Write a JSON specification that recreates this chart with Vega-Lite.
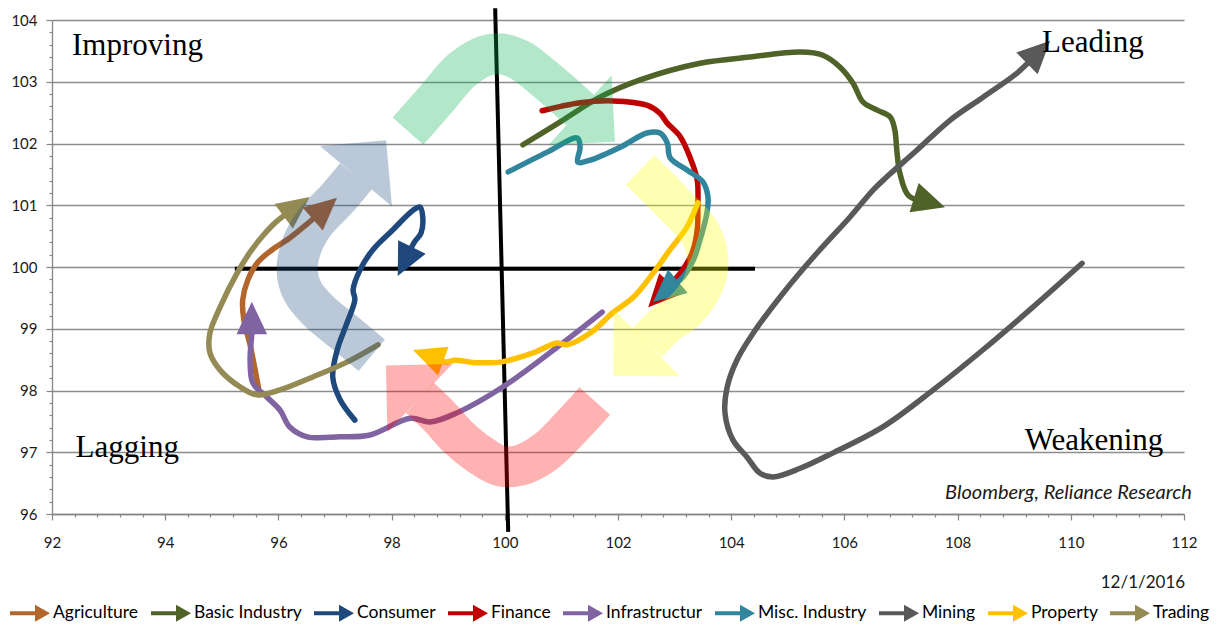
{
  "$schema": "https://vega.github.io/schema/vega-lite/v6.json",
  "width": 1132,
  "height": 494,
  "autosize": {"type": "none"},
  "padding": {"left": 52, "top": 20, "right": 48, "bottom": 111},
  "background": "white",
  "config": {"view": {"stroke": null}},
  "datasets": {
    "series": [
      {"s": "Agriculture", "i": 0, "x": 95.67, "y": 97.93},
      {"s": "Agriculture", "i": 1, "x": 95.59, "y": 98.33},
      {"s": "Agriculture", "i": 2, "x": 95.50, "y": 98.74},
      {"s": "Agriculture", "i": 3, "x": 95.39, "y": 99.14},
      {"s": "Agriculture", "i": 4, "x": 95.37, "y": 99.47},
      {"s": "Agriculture", "i": 5, "x": 95.46, "y": 99.79},
      {"s": "Agriculture", "i": 6, "x": 95.64, "y": 100.08},
      {"s": "Agriculture", "i": 7, "x": 95.89, "y": 100.28},
      {"s": "Agriculture", "i": 8, "x": 96.20, "y": 100.47},
      {"s": "Agriculture", "i": 9, "x": 96.51, "y": 100.70},
      {"s": "Agriculture", "i": 10, "x": 96.81, "y": 100.94},
      {"s": "Basic Industry", "i": 0, "x": 100.32, "y": 101.98},
      {"s": "Basic Industry", "i": 1, "x": 100.98, "y": 102.35},
      {"s": "Basic Industry", "i": 2, "x": 101.68, "y": 102.75},
      {"s": "Basic Industry", "i": 3, "x": 102.39, "y": 103.03},
      {"s": "Basic Industry", "i": 4, "x": 103.45, "y": 103.30},
      {"s": "Basic Industry", "i": 5, "x": 104.33, "y": 103.40},
      {"s": "Basic Industry", "i": 6, "x": 105.22, "y": 103.48},
      {"s": "Basic Industry", "i": 7, "x": 105.62, "y": 103.43},
      {"s": "Basic Industry", "i": 8, "x": 105.92, "y": 103.24},
      {"s": "Basic Industry", "i": 9, "x": 106.15, "y": 102.98},
      {"s": "Basic Industry", "i": 10, "x": 106.33, "y": 102.67},
      {"s": "Basic Industry", "i": 11, "x": 106.58, "y": 102.54},
      {"s": "Basic Industry", "i": 12, "x": 106.81, "y": 102.43},
      {"s": "Basic Industry", "i": 13, "x": 106.89, "y": 102.22},
      {"s": "Basic Industry", "i": 14, "x": 106.93, "y": 101.85},
      {"s": "Basic Industry", "i": 15, "x": 106.98, "y": 101.52},
      {"s": "Basic Industry", "i": 16, "x": 107.14, "y": 101.15},
      {"s": "Basic Industry", "i": 17, "x": 107.49, "y": 101.05},
      {"s": "Consumer", "i": 0, "x": 97.35, "y": 97.52},
      {"s": "Consumer", "i": 1, "x": 97.09, "y": 97.85},
      {"s": "Consumer", "i": 2, "x": 96.96, "y": 98.22},
      {"s": "Consumer", "i": 3, "x": 97.04, "y": 98.66},
      {"s": "Consumer", "i": 4, "x": 97.21, "y": 99.09},
      {"s": "Consumer", "i": 5, "x": 97.35, "y": 99.47},
      {"s": "Consumer", "i": 6, "x": 97.32, "y": 99.63},
      {"s": "Consumer", "i": 7, "x": 97.44, "y": 99.95},
      {"s": "Consumer", "i": 8, "x": 97.67, "y": 100.28},
      {"s": "Consumer", "i": 9, "x": 98.02, "y": 100.60},
      {"s": "Consumer", "i": 10, "x": 98.38, "y": 100.92},
      {"s": "Consumer", "i": 11, "x": 98.50, "y": 100.97},
      {"s": "Consumer", "i": 12, "x": 98.55, "y": 100.81},
      {"s": "Consumer", "i": 13, "x": 98.52, "y": 100.55},
      {"s": "Consumer", "i": 14, "x": 98.40, "y": 100.40},
      {"s": "Consumer", "i": 15, "x": 98.24, "y": 100.10},
      {"s": "Finance", "i": 0, "x": 100.66, "y": 102.53},
      {"s": "Finance", "i": 1, "x": 101.33, "y": 102.66},
      {"s": "Finance", "i": 2, "x": 101.91, "y": 102.69},
      {"s": "Finance", "i": 3, "x": 102.51, "y": 102.62},
      {"s": "Finance", "i": 4, "x": 102.74, "y": 102.49},
      {"s": "Finance", "i": 5, "x": 102.87, "y": 102.33},
      {"s": "Finance", "i": 6, "x": 103.10, "y": 102.11},
      {"s": "Finance", "i": 7, "x": 103.27, "y": 101.78},
      {"s": "Finance", "i": 8, "x": 103.40, "y": 101.41},
      {"s": "Finance", "i": 9, "x": 103.41, "y": 100.97},
      {"s": "Finance", "i": 10, "x": 103.40, "y": 100.60},
      {"s": "Finance", "i": 11, "x": 103.31, "y": 100.23},
      {"s": "Finance", "i": 12, "x": 103.10, "y": 99.90},
      {"s": "Finance", "i": 13, "x": 102.74, "y": 99.55},
      {"s": "Infrastructur", "i": 0, "x": 101.72, "y": 99.27},
      {"s": "Infrastructur", "i": 1, "x": 100.98, "y": 98.74},
      {"s": "Infrastructur", "i": 2, "x": 99.97, "y": 98.06},
      {"s": "Infrastructur", "i": 3, "x": 99.16, "y": 97.64},
      {"s": "Infrastructur", "i": 4, "x": 98.68, "y": 97.49},
      {"s": "Infrastructur", "i": 5, "x": 98.33, "y": 97.55},
      {"s": "Infrastructur", "i": 6, "x": 97.62, "y": 97.28},
      {"s": "Infrastructur", "i": 7, "x": 97.09, "y": 97.25},
      {"s": "Infrastructur", "i": 8, "x": 96.51, "y": 97.25},
      {"s": "Infrastructur", "i": 9, "x": 96.20, "y": 97.41},
      {"s": "Infrastructur", "i": 10, "x": 96.03, "y": 97.68},
      {"s": "Infrastructur", "i": 11, "x": 95.80, "y": 97.89},
      {"s": "Infrastructur", "i": 12, "x": 95.55, "y": 98.12},
      {"s": "Infrastructur", "i": 13, "x": 95.50, "y": 98.49},
      {"s": "Infrastructur", "i": 14, "x": 95.53, "y": 98.93},
      {"s": "Infrastructur", "i": 15, "x": 95.53, "y": 99.16},
      {"s": "Misc. Industry", "i": 0, "x": 100.06, "y": 101.54},
      {"s": "Misc. Industry", "i": 1, "x": 100.75, "y": 101.86},
      {"s": "Misc. Industry", "i": 2, "x": 101.28, "y": 102.09},
      {"s": "Misc. Industry", "i": 3, "x": 101.33, "y": 101.94},
      {"s": "Misc. Industry", "i": 4, "x": 101.29, "y": 101.70},
      {"s": "Misc. Industry", "i": 5, "x": 101.51, "y": 101.73},
      {"s": "Misc. Industry", "i": 6, "x": 102.04, "y": 101.94},
      {"s": "Misc. Industry", "i": 7, "x": 102.51, "y": 102.17},
      {"s": "Misc. Industry", "i": 8, "x": 102.74, "y": 102.17},
      {"s": "Misc. Industry", "i": 9, "x": 102.87, "y": 102.01},
      {"s": "Misc. Industry", "i": 10, "x": 102.92, "y": 101.77},
      {"s": "Misc. Industry", "i": 11, "x": 103.22, "y": 101.57},
      {"s": "Misc. Industry", "i": 12, "x": 103.50, "y": 101.38},
      {"s": "Misc. Industry", "i": 13, "x": 103.59, "y": 101.13},
      {"s": "Misc. Industry", "i": 14, "x": 103.57, "y": 100.87},
      {"s": "Misc. Industry", "i": 15, "x": 103.45, "y": 100.44},
      {"s": "Misc. Industry", "i": 16, "x": 103.33, "y": 100.11},
      {"s": "Misc. Industry", "i": 17, "x": 103.15, "y": 99.84},
      {"s": "Misc. Industry", "i": 18, "x": 102.85, "y": 99.61},
      {"s": "Mining", "i": 0, "x": 110.20, "y": 100.06},
      {"s": "Mining", "i": 1, "x": 109.33, "y": 99.35},
      {"s": "Mining", "i": 2, "x": 108.45, "y": 98.66},
      {"s": "Mining", "i": 3, "x": 107.57, "y": 98.01},
      {"s": "Mining", "i": 4, "x": 106.68, "y": 97.41},
      {"s": "Mining", "i": 5, "x": 105.80, "y": 96.99},
      {"s": "Mining", "i": 6, "x": 105.22, "y": 96.74},
      {"s": "Mining", "i": 7, "x": 104.74, "y": 96.60},
      {"s": "Mining", "i": 8, "x": 104.51, "y": 96.66},
      {"s": "Mining", "i": 9, "x": 104.28, "y": 96.92},
      {"s": "Mining", "i": 10, "x": 104.03, "y": 97.20},
      {"s": "Mining", "i": 11, "x": 103.89, "y": 97.64},
      {"s": "Mining", "i": 12, "x": 103.93, "y": 98.06},
      {"s": "Mining", "i": 13, "x": 104.10, "y": 98.49},
      {"s": "Mining", "i": 14, "x": 104.39, "y": 98.93},
      {"s": "Mining", "i": 15, "x": 104.92, "y": 99.58},
      {"s": "Mining", "i": 16, "x": 105.52, "y": 100.23},
      {"s": "Mining", "i": 17, "x": 106.10, "y": 100.81},
      {"s": "Mining", "i": 18, "x": 106.51, "y": 101.25},
      {"s": "Mining", "i": 19, "x": 106.75, "y": 101.46},
      {"s": "Mining", "i": 20, "x": 107.28, "y": 101.89},
      {"s": "Mining", "i": 21, "x": 107.87, "y": 102.38},
      {"s": "Mining", "i": 22, "x": 108.45, "y": 102.75},
      {"s": "Mining", "i": 23, "x": 109.05, "y": 103.14},
      {"s": "Mining", "i": 24, "x": 109.42, "y": 103.47},
      {"s": "Property", "i": 0, "x": 103.41, "y": 101.04},
      {"s": "Property", "i": 1, "x": 103.22, "y": 100.65},
      {"s": "Property", "i": 2, "x": 102.92, "y": 100.28},
      {"s": "Property", "i": 3, "x": 102.62, "y": 99.90},
      {"s": "Property", "i": 4, "x": 102.27, "y": 99.51},
      {"s": "Property", "i": 5, "x": 101.91, "y": 99.26},
      {"s": "Property", "i": 6, "x": 101.51, "y": 98.93},
      {"s": "Property", "i": 7, "x": 101.10, "y": 98.74},
      {"s": "Property", "i": 8, "x": 100.92, "y": 98.77},
      {"s": "Property", "i": 9, "x": 100.50, "y": 98.61},
      {"s": "Property", "i": 10, "x": 99.92, "y": 98.46},
      {"s": "Property", "i": 11, "x": 99.56, "y": 98.45},
      {"s": "Property", "i": 12, "x": 99.39, "y": 98.46},
      {"s": "Property", "i": 13, "x": 99.12, "y": 98.49},
      {"s": "Property", "i": 14, "x": 98.96, "y": 98.46},
      {"s": "Property", "i": 15, "x": 98.66, "y": 98.56},
      {"s": "Trading", "i": 0, "x": 97.76, "y": 98.74},
      {"s": "Trading", "i": 1, "x": 97.21, "y": 98.46},
      {"s": "Trading", "i": 2, "x": 96.61, "y": 98.22},
      {"s": "Trading", "i": 3, "x": 96.03, "y": 98.01},
      {"s": "Trading", "i": 4, "x": 95.62, "y": 97.93},
      {"s": "Trading", "i": 5, "x": 95.32, "y": 98.06},
      {"s": "Trading", "i": 6, "x": 94.97, "y": 98.33},
      {"s": "Trading", "i": 7, "x": 94.79, "y": 98.61},
      {"s": "Trading", "i": 8, "x": 94.79, "y": 98.93},
      {"s": "Trading", "i": 9, "x": 94.97, "y": 99.35},
      {"s": "Trading", "i": 10, "x": 95.27, "y": 99.90},
      {"s": "Trading", "i": 11, "x": 95.50, "y": 100.24},
      {"s": "Trading", "i": 12, "x": 95.71, "y": 100.49},
      {"s": "Trading", "i": 13, "x": 95.96, "y": 100.73},
      {"s": "Trading", "i": 14, "x": 96.31, "y": 100.97}
    ],
    "bg": [
      {"s": "bgGreen", "i": 0, "x": 98.29, "y": 102.20},
      {"s": "bgGreen", "i": 1, "x": 98.77, "y": 102.70},
      {"s": "bgGreen", "i": 2, "x": 99.24, "y": 103.19},
      {"s": "bgGreen", "i": 3, "x": 99.65, "y": 103.42},
      {"s": "bgGreen", "i": 4, "x": 99.95, "y": 103.45},
      {"s": "bgGreen", "i": 5, "x": 100.27, "y": 103.35},
      {"s": "bgGreen", "i": 6, "x": 100.62, "y": 103.11},
      {"s": "bgGreen", "i": 7, "x": 100.98, "y": 102.83},
      {"s": "bgGreen", "i": 8, "x": 101.33, "y": 102.54},
      {"s": "bgYellow", "i": 0, "x": 102.39, "y": 101.57},
      {"s": "bgYellow", "i": 1, "x": 102.97, "y": 101.04},
      {"s": "bgYellow", "i": 2, "x": 103.45, "y": 100.55},
      {"s": "bgYellow", "i": 3, "x": 103.59, "y": 100.08},
      {"s": "bgYellow", "i": 4, "x": 103.50, "y": 99.71},
      {"s": "bgYellow", "i": 5, "x": 103.18, "y": 99.30},
      {"s": "bgYellow", "i": 6, "x": 102.85, "y": 99.08},
      {"s": "bgYellow", "i": 7, "x": 102.51, "y": 98.77},
      {"s": "bgPink", "i": 0, "x": 101.59, "y": 97.83},
      {"s": "bgPink", "i": 1, "x": 101.15, "y": 97.39},
      {"s": "bgPink", "i": 2, "x": 100.71, "y": 97.00},
      {"s": "bgPink", "i": 3, "x": 100.27, "y": 96.79},
      {"s": "bgPink", "i": 4, "x": 99.92, "y": 96.78},
      {"s": "bgPink", "i": 5, "x": 99.56, "y": 96.96},
      {"s": "bgPink", "i": 6, "x": 99.17, "y": 97.25},
      {"s": "bgPink", "i": 7, "x": 98.82, "y": 97.60},
      {"s": "bgPink", "i": 8, "x": 98.50, "y": 97.88},
      {"s": "bgBlue", "i": 0, "x": 97.65, "y": 98.57},
      {"s": "bgBlue", "i": 1, "x": 97.18, "y": 98.93},
      {"s": "bgBlue", "i": 2, "x": 96.73, "y": 99.27},
      {"s": "bgBlue", "i": 3, "x": 96.43, "y": 99.60},
      {"s": "bgBlue", "i": 4, "x": 96.33, "y": 99.95},
      {"s": "bgBlue", "i": 5, "x": 96.42, "y": 100.36},
      {"s": "bgBlue", "i": 6, "x": 96.65, "y": 100.73},
      {"s": "bgBlue", "i": 7, "x": 97.05, "y": 101.12},
      {"s": "bgBlue", "i": 8, "x": 97.37, "y": 101.47}
    ],
    "cross": [
      {"k": "v", "i": 0, "x": 99.83, "y": 104.19},
      {"k": "v", "i": 1, "x": 100.06, "y": 95.71},
      {"k": "h", "i": 0, "x": 95.23, "y": 99.97},
      {"k": "h", "i": 1, "x": 104.42, "y": 99.97}
    ],
    "quad": [
      {"t": "Improving", "x": 93.51, "y": 103.43},
      {"t": "Leading", "x": 110.39, "y": 103.48},
      {"t": "Lagging", "x": 93.33, "y": 96.92},
      {"t": "Weakening", "x": 110.41, "y": 97.04}
    ],
    "src": [{"t": "Bloomberg, Reliance Research", "x": 112.14, "y": 96.24}],
    "date": [{"t": "12/1/2016", "x": 112.02, "y": 94.80}]
  },
  "encoding": {
    "x": {
      "field": "x", "type": "quantitative",
      "scale": {"domain": [92, 112], "nice": false, "zero": false},
      "axis": {
        "title": null,
        "values": [92,92.4,92.8,93.2,93.6,94,94.4,94.8,95.2,95.6,96,96.4,96.8,97.2,97.6,98,98.4,98.8,99.2,99.6,100,100.4,100.8,101.2,101.6,102,102.4,102.8,103.2,103.6,104,104.4,104.8,105.2,105.6,106,106.4,106.8,107.2,107.6,108,108.4,108.8,109.2,109.6,110,110.4,110.8,111.2,111.6,112],
        "format": ".0f",
        "labelExpr": "abs(datum.value/2 - round(datum.value/2)) < 0.001 ? datum.label : ''",
        "grid": false,
        "domainColor": "#868686", "domainWidth": 1.3,
        "tickColor": "#868686", "tickWidth": 1.2,
        "tickSize": {"condition": {"test": "abs(datum.value/2 - round(datum.value/2)) < 0.001", "value": 6}, "value": 3},
        "labelPadding": 15, "labelFont": "Lato", "labelFontSize": 15, "labelColor": "#1a1a1a",
        "labelOverlap": false, "labelFlush": false
      }
    },
    "y": {
      "field": "y", "type": "quantitative",
      "scale": {"domain": [96, 104], "nice": false, "zero": false},
      "axis": {
        "title": null,
        "values": [96,96.2,96.4,96.6,96.8,97,97.2,97.4,97.6,97.8,98,98.2,98.4,98.6,98.8,99,99.2,99.4,99.6,99.8,100,100.2,100.4,100.6,100.8,101,101.2,101.4,101.6,101.8,102,102.2,102.4,102.6,102.8,103,103.2,103.4,103.6,103.8,104],
        "format": ".0f",
        "labelExpr": "abs(datum.value - round(datum.value)) < 0.001 ? datum.label : ''",
        "grid": true, "gridColor": "#8c8c8c", "gridWidth": 1.5,
        "gridOpacity": {"condition": {"test": "abs(datum.value - round(datum.value)) < 0.001", "value": 1}, "value": 0},
        "domainColor": "#868686", "domainWidth": 1.3,
        "tickColor": "#868686", "tickWidth": 1.2,
        "tickSize": {"condition": {"test": "abs(datum.value - round(datum.value)) < 0.001", "value": 6}, "value": 3},
        "labelPadding": 9, "labelFont": "Lato", "labelFontSize": 15, "labelColor": "#1a1a1a",
        "labelOverlap": false, "labelFlush": false
      }
    }
  },
  "layer": [
    {
      "data": {"name": "cross"},
      "mark": {"type": "line", "color": "#000000", "strokeWidth": 4, "strokeCap": "butt"},
      "encoding": {"detail": {"field": "k"}, "order": {"field": "i", "type": "quantitative"}}
    },
    {
      "data": {"name": "series"},
      "mark": {"type": "line", "strokeWidth": 5.5, "interpolate": "catmull-rom", "strokeCap": "round", "strokeJoin": "round"},
      "encoding": {
        "stroke": {
          "field": "s", "type": "nominal", "legend": null,
          "scale": {
            "domain": ["Agriculture", "Basic Industry", "Consumer", "Finance", "Infrastructur", "Misc. Industry", "Mining", "Property", "Trading", "bgGreen", "bgYellow", "bgPink", "bgBlue"],
            "range": ["#B3662B", "#4F6228", "#1F497D", "#C00000", "#8064A2", "#31859C", "#595959", "#FFC000", "#948A54", "#00B050", "#FFFF00", "#FF0000", "#1F497D"]
          }
        },
        "order": {"field": "i", "type": "quantitative"}
      }
    },
    {
      "data": {"name": "series"},
      "transform": [
        {"window": [{"op": "lead", "field": "x", "as": "px"}, {"op": "lead", "field": "y", "as": "py"}, {"op": "row_number", "as": "rn"}], "groupby": ["s"], "sort": [{"field": "i", "order": "descending"}]},
        {"filter": "datum.rn === 1"},
        {"calculate": "atan2((datum.x - datum.px) * 56.6, (datum.y - datum.py) * 61.75) * 180 / PI", "as": "ang"}
      ],
      "mark": {"type": "point", "shape": "M0,-1 L0.9,0.9 L-0.9,0.9 Z", "size": 1156, "filled": true, "opacity": 1, "strokeWidth": 0},
      "encoding": {
        "fill": {
          "field": "s", "type": "nominal",
          "scale": {
            "domain": ["Agriculture", "Basic Industry", "Consumer", "Finance", "Infrastructur", "Misc. Industry", "Mining", "Property", "Trading"],
            "range": ["#B3662B", "#4F6228", "#1F497D", "#C00000", "#8064A2", "#31859C", "#595959", "#FFC000", "#948A54"]
          },
          "legend": {
            "title": null,
            "orient": "none", "legendX": -42, "legendY": 573, "direction": "horizontal",
            "symbolType": "M-1,-0.1 L0.25,-0.1 L0.25,-0.42 L1,0 L0.25,0.42 L0.25,0.1 L-1,0.1 Z",
            "symbolSize": 1600, "symbolStrokeWidth": 0, "symbolOpacity": 1,
            "labelFont": "Lato", "labelFontSize": 17.5, "labelColor": "#000000",
            "labelOffset": 3, "columnPadding": 12, "padding": 0, "labelLimit": 300
          }
        },
        "angle": {"field": "ang", "type": "quantitative", "scale": null}
      }
    },
    {
      "data": {"name": "bg"},
      "mark": {"type": "line", "strokeWidth": 41, "opacity": 0.3, "interpolate": "catmull-rom", "strokeCap": "butt", "strokeJoin": "round"},
      "encoding": {
        "stroke": {
          "field": "s", "type": "nominal", "legend": null,
          "scale": {
            "domain": ["Agriculture", "Basic Industry", "Consumer", "Finance", "Infrastructur", "Misc. Industry", "Mining", "Property", "Trading", "bgGreen", "bgYellow", "bgPink", "bgBlue"],
            "range": ["#B3662B", "#4F6228", "#1F497D", "#C00000", "#8064A2", "#31859C", "#595959", "#FFC000", "#948A54", "#00B050", "#FFFF00", "#FF0000", "#1F497D"]
          }
        },
        "order": {"field": "i", "type": "quantitative"}
      }
    },
    {
      "data": {"name": "bg"},
      "transform": [
        {"window": [{"op": "lead", "field": "x", "as": "px"}, {"op": "lead", "field": "y", "as": "py"}, {"op": "row_number", "as": "rn"}], "groupby": ["s"], "sort": [{"field": "i", "order": "descending"}]},
        {"filter": "datum.rn === 1"},
        {"calculate": "atan2((datum.x - datum.px) * 56.6, (datum.y - datum.py) * 61.75) * 180 / PI", "as": "ang"}
      ],
      "mark": {"type": "point", "shape": "M0,-1 L1,0 L-1,0 Z", "size": 8836, "filled": true, "opacity": 0.3, "strokeWidth": 0},
      "encoding": {
        "color": {
          "field": "s", "type": "nominal", "legend": null,
          "scale": {
            "domain": ["bgGreen", "bgYellow", "bgPink", "bgBlue"],
            "range": ["#00B050", "#FFFF00", "#FF0000", "#1F497D"]
          }
        },
        "angle": {"field": "ang", "type": "quantitative", "scale": null}
      }
    },
    {
      "data": {"name": "quad"},
      "mark": {"type": "text", "font": "Liberation Serif", "fontSize": 31, "color": "#000000", "align": "center", "baseline": "alphabetic"},
      "encoding": {"text": {"field": "t"}}
    },
    {
      "data": {"name": "src"},
      "mark": {"type": "text", "font": "Lato", "fontStyle": "italic", "fontSize": 20, "color": "#1a1a1a", "align": "right", "baseline": "alphabetic"},
      "encoding": {"text": {"field": "t"}}
    },
    {
      "data": {"name": "date"},
      "mark": {"type": "text", "font": "Lato", "fontSize": 17, "color": "#1a1a1a", "align": "right", "baseline": "alphabetic"},
      "encoding": {"text": {"field": "t"}}
    }
  ]
}
